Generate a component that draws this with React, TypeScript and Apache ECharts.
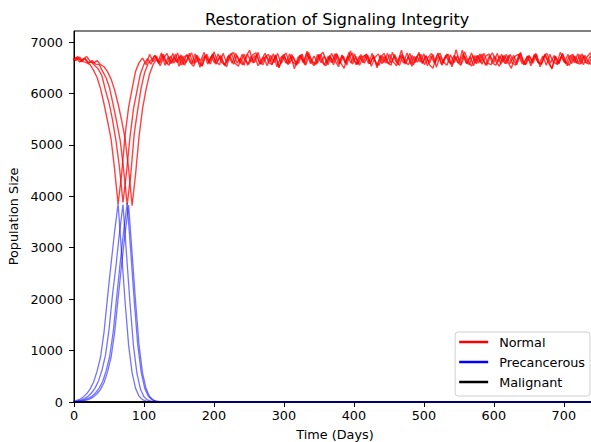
import React, { useEffect, useRef } from "react";
import * as echarts from "echarts";

const FONT = "DejaVu Sans";
const TITLE = "Restoration of Signaling Integrity";
const X_NAME = "Time (Days)";
const Y_NAME = "Population Size";
const LEGEND_NAMES = ["Normal", "Precancerous", "Malignant"];

// Sampling step (days) of each simulated run, and the day its first sample sits on
const STEP = 5;
const RUN_START_DAYS = [-2, 0, -4, -2];
const END_DAY = 750;
const X_MAX = 746;
const Y_MAX = 7215;

// Normal population, run 1 (trough near day 63)
const normalRun1 = [
  6690, 6640, 6710, 6620, 6600, 6560, 6450, 6310, 6090, 5790, 5460, 5110, 4530, 3850, 4420, 5190, 5730, 6090, 6430, 6600, 6690,
  6560, 6760, 6620, 6730, 6540, 6690, 6780, 6580, 6710, 6600,
  6750, 6550, 6700, 6790, 6590, 6680, 6530, 6740, 6620, 6770,
  6570, 6720, 6610, 6520, 6730, 6800, 6590, 6690, 6550, 6760,
  6610, 6740, 6540, 6660, 6780, 6600, 6560, 6750, 6510, 6700,
  6790, 6580, 6720, 6550, 6740, 6590, 6820, 6630, 6540, 6760,
  6600, 6730, 6560, 6780, 6640, 6520, 6750, 6590, 6800, 6570,
  6720, 6550, 6690, 6770, 6580, 6740, 6500, 6710, 6780, 6600,
  6550, 6760, 6620, 6840, 6570, 6730, 6530, 6690, 6770, 6590,
  6740, 6560, 6490, 6720, 6780, 6610, 6550, 6750, 6600, 6730,
  6570, 6810, 6640, 6530, 6740, 6590, 6770, 6550, 6710, 6790,
  6620, 6530, 6740, 6580, 6760, 6640, 6560, 6800, 6600, 6730,
  6540, 6750, 6610, 6570, 6770, 6630, 6490, 6720, 6580, 6780,
  6610, 6550, 6740, 6590, 6760, 6560, 6710, 6790, 6600, 6680,
];

// Normal population, run 2 (trough near day 70)
const normalRun2 = [
  6660, 6720, 6630, 6680, 6590, 6610, 6540, 6470, 6340, 6060, 5820, 5490, 5080, 4560, 3880, 4460, 5150, 5700, 6050, 6390, 6570, 6680,
  6570, 6740, 6610, 6790, 6550, 6720, 6590, 6770, 6530, 6730,
  6600, 6780, 6580, 6740, 6510, 6700, 6760, 6570, 6810, 6620,
  6740, 6550, 6720, 6780, 6590, 6530, 6760, 6640, 6570, 6750,
  6790, 6600, 6560, 6730, 6610, 6770, 6520, 6690, 6760, 6580,
  6730, 6480, 6700, 6750, 6560, 6800, 6630, 6570, 6760, 6600,
  6540, 6740, 6610, 6780, 6580, 6730, 6550, 6830, 6640, 6570,
  6760, 6590, 6740, 6530, 6700, 6770, 6580, 6730, 6570, 6800,
  6620, 6550, 6740, 6600, 6780, 6560, 6720, 6610, 6770, 6540,
  6730, 6590, 6790, 6570, 6700, 6760, 6520, 6720, 6590, 6840,
  6610, 6560, 6740, 6580, 6770, 6630, 6550, 6730, 6600, 6780,
  6570, 6740, 6610, 6490, 6720, 6760, 6590, 6560, 6740, 6620,
  6780, 6580, 6730, 6550, 6760, 6610, 6570, 6800, 6640, 6540,
  6730, 6600, 6770, 6580, 6740, 6620, 6550, 6760, 6650,
];

// Normal population, run 3 (trough near day 76)
const normalRun3 = [
  6700, 6650, 6690, 6620, 6680, 6600, 6640, 6570, 6560, 6430, 6300, 6100, 5780, 5450, 5090, 4510, 3840, 4400, 5210, 5680, 6110, 6410, 6590, 6660,
  6740, 6580, 6760, 6620, 6550, 6780, 6610, 6730, 6560, 6760,
  6600, 6530, 6740, 6630, 6800, 6570, 6720, 6590, 6770, 6610,
  6550, 6740, 6590, 6780, 6630, 6560, 6730, 6840, 6590, 6760,
  6570, 6710, 6540, 6740, 6600, 6780, 6580, 6720, 6560, 6760,
  6630, 6590, 6770, 6550, 6730, 6610, 6570, 6740, 6800, 6590,
  6720, 6560, 6760, 6600, 6490, 6730, 6590, 6770, 6570, 6710,
  6740, 6580, 6780, 6610, 6550, 6730, 6590, 6760, 6620, 6540,
  6740, 6590, 6790, 6570, 6720, 6610, 6760, 6560, 6700, 6780,
  6590, 6730, 6550, 6740, 6610, 6570, 6850, 6620, 6760, 6580,
  6720, 6540, 6740, 6600, 6780, 6590, 6560, 6730, 6610, 6760,
  6580, 6740, 6600, 6550, 6770, 6620, 6570, 6730, 6590, 6760,
  6520, 6710, 6780, 6590, 6740, 6560, 6720, 6600, 6760, 6580,
  6730, 6590, 6770, 6610, 6570, 6740, 6650,
];

// Normal population, run 4 (trough near day 83)
const normalRun4 = [
  6640, 6700, 6610, 6670, 6720, 6630, 6590, 6640, 6560, 6520, 6420, 6280, 6070, 5800, 5480, 5120, 4540, 3820, 4430, 5170, 5710, 6080, 6380, 6560, 6670,
  6600, 6760, 6570, 6730, 6590, 6790, 6550, 6720, 6740, 6580,
  6770, 6600, 6540, 6740, 6590, 6760, 6610, 6560, 6780, 6600,
  6730, 6570, 6740, 6590, 6770, 6550, 6720, 6600, 6800, 6580,
  6710, 6760, 6570, 6740, 6500, 6730, 6590, 6770, 6600, 6560,
  6740, 6610, 6780, 6580, 6730, 6590, 6760, 6550, 6720, 6600,
  6770, 6570, 6740, 6590, 6710, 6790, 6560, 6730, 6600, 6760,
  6580, 6720, 6540, 6740, 6600, 6780, 6590, 6730, 6570, 6760,
  6610, 6560, 6740, 6600, 6800, 6580, 6730, 6590, 6760, 6510,
  6720, 6600, 6770, 6570, 6740, 6610, 6550, 6730, 6590, 6790,
  6600, 6740, 6570, 6720, 6770, 6590, 6550, 6730, 6610, 6760,
  6580, 6740, 6600, 6780, 6560, 6720, 6590, 6760, 6610, 6570,
  6740, 6600, 6480, 6730, 6590, 6770, 6580, 6720, 6760, 6600,
  6570, 6740, 6590, 6730, 6610, 6750,
];

// Precancerous population per run (same start days); zero afterwards
const precancerousRun1 = [8, 25, 50, 95, 160, 250, 390, 600, 880, 1370, 2050, 2690, 3310, 3860, 2910, 1950, 1110, 570, 265, 110, 45, 18, 6, 0];
const precancerousRun2 = [5, 15, 35, 65, 110, 175, 270, 410, 620, 910, 1400, 2080, 2650, 3290, 3840, 2880, 1930, 1090, 550, 250, 100, 40, 15, 5, 0];
const precancerousRun3 = [3, 8, 15, 28, 45, 75, 115, 180, 270, 400, 610, 890, 1360, 2040, 2700, 3330, 3870, 2940, 1980, 1120, 580, 270, 115, 48, 18, 6, 0];
const precancerousRun4 = [2, 6, 12, 22, 38, 62, 100, 160, 245, 380, 590, 870, 1340, 2010, 2660, 3280, 3830, 2900, 1950, 1100, 560, 260, 105, 42, 15, 5, 0, 0];

// Malignant population stays at zero in every run
const MALIGNANT_DAYS = [0, END_DAY];
const malignantValues = [0, 0];

const normalRuns = [normalRun1, normalRun2, normalRun3, normalRun4];
const precancerousRuns = [precancerousRun1, precancerousRun2, precancerousRun3, precancerousRun4];

function toPairs(start: number, values: number[]): number[][] {
  return values.map((v, i) => [start + STEP * i, v]);
}

export default function App() {
  const ref = useRef<HTMLDivElement>(null);

  useEffect(() => {
    if (!ref.current) return;
    const chart = echarts.init(ref.current, undefined, { renderer: "svg" });

    const series: any[] = [];
    for (let r = 0; r < normalRuns.length; r++) {
      series.push({
        name: "Normal",
        type: "line",
        data: toPairs(RUN_START_DAYS[r], normalRuns[r]),
        color: "#ff0000",
        symbol: "none",
        showSymbol: false,
        lineStyle: { width: 1.4, opacity: 0.75 },
      });
      series.push({
        name: "Precancerous",
        type: "line",
        data: toPairs(RUN_START_DAYS[r], precancerousRuns[r]).concat([[END_DAY, 0]]),
        color: "#0000ff",
        symbol: "none",
        showSymbol: false,
        lineStyle: { width: 1.3, opacity: 0.55 },
      });
      series.push({
        name: "Malignant",
        type: "line",
        data: MALIGNANT_DAYS.map((d, i) => [d, malignantValues[i]]),
        color: "#000000",
        symbol: "none",
        showSymbol: false,
        lineStyle: { width: 1, opacity: 0.8 },
      });
    }

    const axisCommon = {
      nameLocation: "middle" as const,
      nameTextStyle: { fontSize: 12.8, color: "#000", fontFamily: FONT },
      axisLine: { show: true, onZero: false, lineStyle: { color: "#000", width: 1 } },
      axisTick: { show: true, inside: false, length: 5, lineStyle: { color: "#000", width: 1 } },
      splitLine: { show: false },
    };

    chart.setOption({
      animation: false,
      backgroundColor: "#ffffff",
      textStyle: { fontFamily: FONT },
      title: {
        text: TITLE,
        left: 200,
        top: 6,
        textStyle: { fontSize: 16, fontWeight: "normal", color: "#000", fontFamily: FONT },
      },
      grid: {
        left: 74,
        right: 4,
        top: 31,
        bottom: 40,
        outerBoundsMode: "none",
        containLabel: false,
        show: true,
        borderColor: "#000",
        borderWidth: 1,
        backgroundColor: "transparent",
      },
      legend: {
        data: LEGEND_NAMES,
        orient: "vertical",
        right: 10,
        bottom: 46,
        icon: "rect",
        itemWidth: 29,
        itemHeight: 2.5,
        itemGap: 6,
        padding: [3, 5, 7, 4],
        borderColor: "#d0d0d0",
        borderWidth: 1,
        borderRadius: 3,
        backgroundColor: "rgba(255,255,255,0.8)",
        itemStyle: { opacity: 1, borderWidth: 0 },
        textStyle: { fontSize: 12.8, lineHeight: 14, color: "#000", fontFamily: FONT, padding: [0, 0, 0, 6] },
      },
      xAxis: {
        ...axisCommon,
        type: "value",
        min: 0,
        max: X_MAX,
        interval: 100,
        name: X_NAME,
        nameGap: 25.5,
        axisLabel: { fontSize: 12.8, color: "#000", fontFamily: FONT, margin: 7, showMaxLabel: false, formatter: (v: number) => String(v) },
      },
      yAxis: {
        ...axisCommon,
        type: "value",
        min: 0,
        max: Y_MAX,
        interval: 1000,
        name: Y_NAME,
        nameGap: 46,
        axisLabel: { fontSize: 12.8, color: "#000", fontFamily: FONT, margin: 11, showMaxLabel: false, formatter: (v: number) => String(v) },
      },
      series,
    });

    return () => chart.dispose();
  }, []);

  return (
    <div
      style={{
        position: "fixed",
        left: 0,
        top: 0,
        width: 591,
        height: 442,
        overflow: "hidden",
        background: "#fff",
      }}
    >
      <div ref={ref} style={{ width: 600, height: 442 }} />
    </div>
  );
}
